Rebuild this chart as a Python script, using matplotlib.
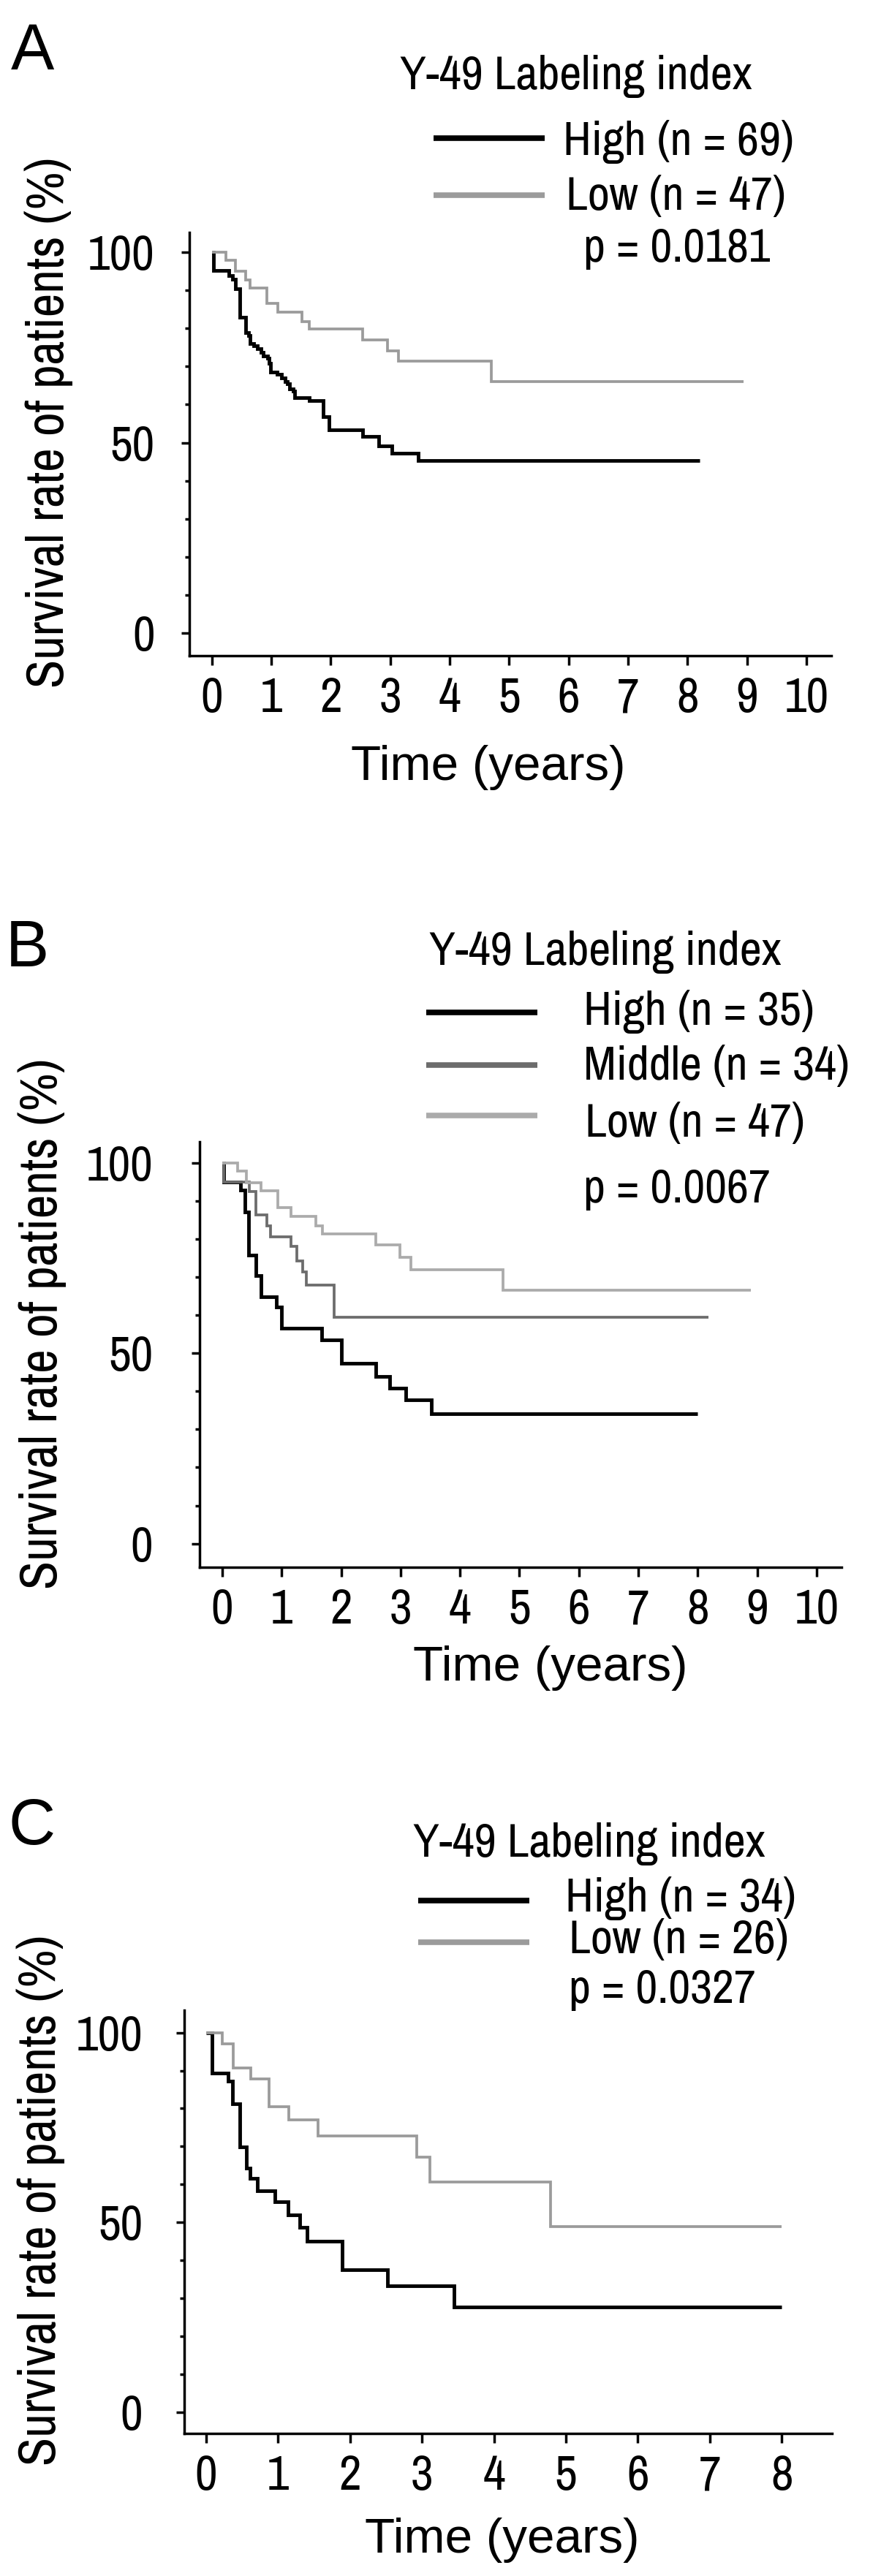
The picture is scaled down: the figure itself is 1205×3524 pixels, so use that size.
import os
import matplotlib
matplotlib.use("Agg")
import matplotlib.pyplot as plt
from matplotlib.lines import Line2D
from matplotlib.ticker import FixedLocator
from matplotlib.textpath import TextPath
import matplotlib.font_manager as fm

# ---------------- data ----------------
A_high_t = [0, 0.03, 0.29, 0.35, 0.39, 0.47, 0.57, 0.62, 0.64, 0.70, 0.76, 0.82, 0.86, 0.94,
            0.96, 0.98, 1.09, 1.17, 1.23, 1.27, 1.31, 1.37, 1.39, 1.64, 1.87, 1.97, 2.54, 2.81,
            3.03, 3.47]
A_high_s = [100, 95.2, 93.8, 93.0, 90.4, 83.0, 78.9, 78.2, 76.0, 75.4, 74.7, 73.8, 72.8, 72.2,
            70.9, 68.6, 68.0, 67.0, 66.1, 65.5, 64.2, 63.5, 61.9, 61.0, 56.8, 53.3, 51.7, 49.1,
            47.3, 45.3]
A_high_end = 8.21
A_low_t = [0, 0.23, 0.39, 0.57, 0.64, 0.92, 1.11, 1.52, 1.64, 2.54, 2.95, 3.14, 4.70]
A_low_s = [100, 97.9, 95.0, 92.8, 90.7, 86.5, 84.2, 81.8, 79.8, 77.0, 74.1, 71.4, 66.1]
A_low_end = 8.94

B_high_t = [0, 0.03, 0.31, 0.38, 0.44, 0.57, 0.65, 0.91, 1.00, 1.67, 2.00, 2.58, 2.82, 3.09, 3.52]
B_high_s = [100, 95.0, 92.8, 87.0, 75.8, 70.4, 64.9, 62.1, 56.6, 53.4, 47.3, 43.8, 40.9, 37.7, 34.2]
B_high_end = 8.0
B_mid_t = [0, 0.03, 0.46, 0.57, 0.75, 0.81, 1.16, 1.26, 1.35, 1.41, 1.88]
B_mid_s = [100, 95.0, 92.5, 86.4, 83.5, 80.6, 78.1, 74.2, 71.3, 67.8, 59.5]
B_mid_end = 8.18
B_low_t = [0, 0.26, 0.41, 0.65, 0.94, 1.16, 1.57, 1.68, 2.58, 2.99, 3.17, 4.73]
B_low_s = [100, 97.9, 94.7, 92.6, 88.3, 85.9, 83.5, 81.4, 78.4, 75.2, 72.0, 66.5]
B_low_end = 8.9

C_high_t = [0, 0.08, 0.30, 0.37, 0.47, 0.56, 0.61, 0.71, 0.96, 1.14, 1.30, 1.40, 1.89, 2.52, 3.45]
C_high_s = [100, 89.3, 87.3, 81.2, 69.9, 64.2, 61.6, 58.4, 55.5, 52.0, 48.7, 45.0, 37.5, 33.2, 27.6]
C_high_end = 8.0
C_low_t = [0, 0.22, 0.38, 0.62, 0.87, 1.15, 1.55, 2.93, 3.11, 4.79]
C_low_s = [100, 97.0, 90.6, 87.8, 80.5, 77.0, 72.8, 67.2, 60.6, 48.9]
C_low_end = 8.0

panel_letters = ["A", "B", "C"]
legend_title = "Y-49 Labeling index"
A_labels = ["High (n = 69)", "Low (n = 47)"]
B_labels = ["High (n = 35)", "Middle (n = 34)", "Low (n = 47)"]
C_labels = ["High (n = 34)", "Low (n = 26)"]
p_values = ["p = 0.0181", "p = 0.0067", "p = 0.0327"]
xlabel = "Time (years)"
ylabel = "Survival rate of patients (%)"
A_xticks = list(range(0, 11))
B_xticks = list(range(0, 11))
C_xticks = list(range(0, 9))
y_major = [0, 50, 100]
y_minor = [10, 20, 30, 40, 60, 70, 80, 90]

# ---------------- fonts ----------------
def _key(path):
    return os.path.basename(path).lower().replace("-", "").replace("_", "").replace(" ", "")


PREFERRED = ["liberationsansnarrowregular", "ptsansnarrowregular", "archivonarrowregular",
             "archivonarrow[", "robotocondensedregular", "robotocondensed[",
             "ibmplexsanscondensedregular", "dejavusanscondensed.ttf"]


def find_narrow():
    paths = [f.fname for f in fm.fontManager.ttflist]
    for pref in PREFERRED:
        for p in paths:
            if _key(p).startswith(pref):
                return p
    return None


narrow_path = find_narrow()


def fp(size):
    if narrow_path is not None:
        return fm.FontProperties(fname=narrow_path, size=size)
    return fm.FontProperties(family="Liberation Sans", size=size)


# cap height (in pt) of the narrow text font at size 1pt
CAP = TextPath((0, 0), "H", size=100, prop=fp(100)).get_extents().height / 100.0


def cap_size(cap_px):
    return cap_px / (CAP * 100.0 / 72.0)


LEG = cap_size(45)
TICK = cap_size(46)
LAB = cap_size(49)
LETTER_FP = fm.FontProperties(family=["Liberation Sans", "DejaVu Sans"], size=64)
XLAB_FP = fm.FontProperties(family=["Liberation Sans", "DejaVu Sans"], size=48.5)

# ---------------- figure ----------------
W, H = 1205, 3524
fig = plt.figure(figsize=(W / 100, H / 100), dpi=100)
fig.patch.set_facecolor("white")
renderer = fig.canvas.get_renderer()


def fx(x):
    return x / W


def fy(y):
    return 1 - y / H


def add_text(x, y, s, size, target_w=None, ha="left", va="baseline", rot=0, prop=None):
    p = prop if prop is not None else fp(size)
    t = fig.text(fx(x), fy(y), s, ha=ha, va=va, rotation=rot, fontproperties=p, color="black")
    if target_w is not None:
        bb = t.get_window_extent(renderer=renderer)
        w = bb.height if rot == 90 else bb.width
        if w > target_w * 1.04:
            t.set_fontsize(t.get_fontsize() * target_w * 1.04 / w)
    return t


def legend_line(x0, x1, y, color):
    fig.add_artist(Line2D([fx(x0), fx(x1)], [fy(y), fy(y)], transform=fig.transFigure,
                          color=color, lw=5.5, solid_capstyle="butt"))


def make_axes(left, right, top, bottom, xlim, ylim, xticks, ypad):
    ax = fig.add_axes([fx(left), fy(bottom), (right - left) / W, (bottom - top) / H])
    ax.set_xlim(*xlim)
    ax.set_ylim(*ylim)
    for s in ("top", "right"):
        ax.spines[s].set_visible(False)
    for s in ("left", "bottom"):
        ax.spines[s].set_linewidth(2.5)
    ax.xaxis.set_major_locator(FixedLocator(xticks))
    ax.set_xticklabels([str(t) for t in xticks])
    ax.yaxis.set_major_locator(FixedLocator(y_major))
    ax.yaxis.set_minor_locator(FixedLocator(y_minor))
    ax.set_yticklabels([str(v) for v in y_major])
    ax.tick_params(axis="x", which="major", length=9, width=2.5, pad=12, direction="out")
    ax.tick_params(axis="y", which="major", length=8, width=2.5, pad=ypad, direction="out")
    ax.tick_params(axis="y", which="minor", length=4, width=2.5, direction="out")
    for lbl in ax.get_xticklabels() + ax.get_yticklabels():
        lbl.set_fontproperties(fp(TICK))
    ax.set_facecolor("none")
    return ax


def km(ax, t, s, end, color, lw):
    ax.step(list(t) + [end], list(s) + [s[-1]], where="post", color=color, lw=lw,
            solid_joinstyle="miter", solid_capstyle="butt")


BLACK = "#000000"
GREY = "#9b9b9b"
MID = "#6c6c6c"
LIGHT = "#ababab"
LW_DARK = 3.5
LW_GREY = 2.7

# ---------------- Panel A ----------------
axA = make_axes(259, 1137, 318, 897, (-0.38, 10.42), (-5.95, 105.2), A_xticks, 26)
km(axA, A_high_t, A_high_s, A_high_end, BLACK, LW_DARK)
km(axA, A_low_t, A_low_s, A_low_end, GREY, LW_GREY)
add_text(15, 95, panel_letters[0], 64, prop=LETTER_FP)
add_text(547, 122, legend_title, LEG, 485)
legend_line(593, 745, 189, BLACK)
legend_line(593, 745, 267, GREY)
add_text(770, 212, A_labels[0], LEG, 310)
add_text(774, 287, A_labels[1], LEG, 301)
add_text(798, 358, p_values[0], LEG, 250)
add_text(480, 1067, xlabel, 48.5, 378, prop=XLAB_FP)
add_text(67, 578, ylabel, LAB, 716, ha="center", va="center", rot=90)

# ---------------- Panel B ----------------
axB = make_axes(273, 1151, 1562, 2144, (-0.381, 10.42), (-6.2, 105.5), B_xticks, 38)
km(axB, B_high_t, B_high_s, B_high_end, BLACK, LW_DARK)
km(axB, B_mid_t, B_mid_s, B_mid_end, MID, LW_GREY)
km(axB, B_low_t, B_low_s, B_low_end, LIGHT, LW_GREY)
add_text(8, 1322, panel_letters[1], 64, prop=LETTER_FP)
add_text(587, 1320, legend_title, LEG, 485)
legend_line(583, 735, 1385, BLACK)
legend_line(583, 735, 1457, MID)
legend_line(583, 735, 1526, LIGHT)
add_text(798, 1402, B_labels[0], LEG, 309)
add_text(798, 1477, B_labels[1], LEG, 360)
add_text(800, 1555, B_labels[2], LEG, 303)
add_text(798, 1645, p_values[1], LEG, 250)
add_text(565, 2299, xlabel, 48.5, 378, prop=XLAB_FP)
add_text(58, 1811, ylabel, LAB, 716, ha="center", va="center", rot=90)

# ---------------- Panel C ----------------
axC = make_axes(252, 1138, 2750, 3329, (-0.305, 8.70), (-5.65, 105.9), C_xticks, 33)
km(axC, C_high_t, C_high_s, C_high_end, BLACK, LW_DARK)
km(axC, C_low_t, C_low_s, C_low_end, GREY, LW_GREY)
add_text(12, 2523, panel_letters[2], 64, prop=LETTER_FP)
add_text(565, 2540, legend_title, LEG, 487)
legend_line(572, 724, 2600, BLACK)
legend_line(572, 724, 2657, GREY)
add_text(773, 2615, C_labels[0], LEG, 310)
add_text(778, 2672, C_labels[1], LEG, 300)
add_text(778, 2740, p_values[2], LEG, 250)
add_text(499, 3492, xlabel, 48.5, 378, prop=XLAB_FP)
add_text(56, 3010, ylabel, LAB, 716, ha="center", va="center", rot=90)

fig.savefig("out.png", dpi=100, facecolor="white")
